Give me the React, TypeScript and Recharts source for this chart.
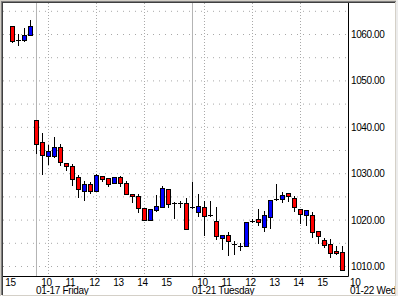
import React from 'react'
import { ComposedChart, Bar, XAxis, YAxis, CartesianGrid } from 'recharts'

// 15-minute bars, index 0 = 01-16 15:00
const opens = [
  1061.9, 1058.85, 1058.8, 1060.0,
  1041.5, 1036.9, 1033.8, 1033.9, 1035.7, 1032.4, 1031.6, 1029.2, 1026.3, 1027.7, 1026.3, 1029.6, 1029.0,
  1027.9, 1029.2, 1028.1, 1025.7, 1025.1, 1022.65, 1020.1, 1022.2, 1022.9, 1026.75, 1023.65, 1023.6, 1023.7,
  1022.8, 1021.7, 1022.9, 1021.0, 1019.8, 1016.2, 1016.8, 1014.95, 1014.4, 1014.4, 1019.9, 1020.2, 1018.6,
  1020.7, 1024.6, 1024.5, 1025.9, 1024.8, 1022.4, 1021.2, 1021.1, 1017.7, 1015.8, 1014.9, 1013.4, 1013.2,
]
const highs = [
  1061.9, 1060.2, 1061.4, 1063.2,
  1041.5, 1038.7, 1036.2, 1038.0, 1036.4, 1032.4, 1032.0, 1029.8, 1028.4, 1028.2, 1030.0, 1029.6, 1029.0,
  1029.3, 1029.5, 1028.4, 1025.7, 1025.7, 1022.65, 1022.3, 1025.5, 1027.4, 1026.75, 1023.9, 1024.2, 1024.8,
  1028.2, 1025.6, 1024.1, 1024.1, 1022.8, 1016.7, 1017.4, 1015.45, 1015.1, 1019.6, 1020.3, 1022.3, 1022.0,
  1024.4, 1027.8, 1026.0, 1025.9, 1025.1, 1022.4, 1022.1, 1021.7, 1017.7, 1016.2, 1016.0, 1014.4, 1014.4,
]
const lows = [
  1058.4, 1057.7, 1058.7, 1060.0,
  1034.4, 1029.9, 1032.1, 1033.6, 1031.8, 1030.9, 1027.5, 1024.9, 1024.3, 1025.9, 1026.3, 1028.4, 1027.4,
  1027.9, 1027.4, 1025.7, 1023.9, 1021.7, 1020.1, 1020.1, 1022.0, 1022.9, 1022.9, 1020.4, 1022.8, 1018.1,
  1022.6, 1020.8, 1016.7, 1020.85, 1015.9, 1013.7, 1012.4, 1012.7, 1013.6, 1014.4, 1019.6, 1019.0, 1017.7,
  1018.3, 1024.4, 1024.0, 1024.2, 1021.9, 1019.3, 1019.0, 1016.4, 1015.0, 1014.2, 1012.1, 1012.8, 1009.2,
]
const closes = [
  1058.7, 1058.85, 1060.0, 1061.9,
  1036.4, 1034.1, 1035.0, 1035.7, 1032.6, 1031.6, 1028.9, 1026.7, 1027.7, 1026.3, 1029.8, 1028.9, 1027.8,
  1029.3, 1028.0, 1025.7, 1025.2, 1022.65, 1020.1, 1022.3, 1023.1, 1027.0, 1023.5, 1023.65, 1023.6, 1018.1,
  1022.8, 1023.1, 1020.9, 1021.0, 1016.6, 1016.7, 1015.5, 1014.95, 1014.4, 1019.6, 1019.9, 1019.6, 1021.05,
  1024.4, 1024.6, 1025.45, 1025.1, 1022.8, 1021.3, 1022.1, 1017.5, 1016.6, 1014.7, 1012.95, 1012.9, 1009.2,
]

const hourTickIdx = [0, 6, 10, 14, 18, 22, 26, 32, 36, 40, 44, 48, 52]
const hourTickLabels = ['15', '10', '11', '12', '13', '14', '15', '10', '11', '12', '13', '14', '15']
const dayStartIdx = [4, 30, 56]
const dayLabels = ['01-17 Friday', '01-21 Tuesday', '01-22 Wednesday']
const dayFirstHourLabel = '10'
const gridHourIdx = [6, 14, 22, 32, 40, 48]
const yTicks = [1010, 1020, 1030, 1040, 1050, 1060]
const yGrid = [1010, 1015, 1020, 1025, 1030, 1035, 1040, 1045, 1050, 1055, 1060, 1065]

const X_MIN = -1.58333
const X_MAX = 56
const Y_MIN = 1007.845
const Y_MAX = 1066.789

const data = opens.map((o, i) => ({
  i,
  open: o,
  high: highs[i],
  low: lows[i],
  close: closes[i],
}))

const FONT = '"Liberation Sans", Arial, sans-serif'

const Candle = (props: any) => {
  const { x, y, width, height, payload } = props
  const { open, close, high, low } = payload
  const top = Math.min(y, y + height)
  const h = Math.abs(height)
  const ppu = high > low ? h / (high - low) : 0
  const yOf = (v: number) => top + (high - v) * ppu
  const cx = Math.floor(x + width / 2) + 0.5
  const wickTop = Math.round(yOf(high))
  const wickBot = Math.round(yOf(low))
  if (Math.abs(open - close) < 0.05) {
    const yy = Math.round(yOf(close)) + 0.5
    return (
      <g>
        <line x1={cx} x2={cx} y1={wickTop} y2={wickBot + 1} stroke="#000" />
        <line x1={cx - 2.5} x2={cx + 2.5} y1={yy} y2={yy} stroke="#000" />
      </g>
    )
  }
  const bTop = Math.round(yOf(Math.max(open, close)))
  const bBot = Math.round(yOf(Math.min(open, close)))
  const fill = close > open ? '#0000ff' : '#ff0000'
  return (
    <g>
      <line x1={cx} x2={cx} y1={wickTop} y2={wickBot + 1} stroke="#000" />
      <rect x={cx - 2} y={bTop + 0.5} width={4} height={Math.max(bBot - bTop, 1)} fill={fill} stroke="#000" />
    </g>
  )
}

const XTick = (props: any) => {
  const { x, payload } = props
  const v = payload.value
  const hi = hourTickIdx.indexOf(v)
  const di = dayStartIdx.indexOf(v)
  return (
    <g fontFamily={FONT} fontSize={10} fill="#000" letterSpacing={-0.3}>
      {hi >= 0 && (
        <text x={x - 2} y={286} textAnchor="middle">
          {hourTickLabels[hi]}
        </text>
      )}
      {di >= 0 && (
        <text x={v + 2 > X_MAX ? x + 1.5 : x - 0.5} y={294} textAnchor="start">
          {dayLabels[di]}
        </text>
      )}
      {di >= 0 && v + 2 > X_MAX && (
        <text x={x + 1.5} y={286} textAnchor="start">
          {dayFirstHourLabel}
        </text>
      )}
    </g>
  )
}

const YTick = (props: any) => {
  const { y, payload } = props
  return (
    <text x={351} y={y + 3.5} fontFamily={FONT} fontSize={10} fill="#000" letterSpacing={-0.4}>
      {payload.value.toFixed(2)}
    </text>
  )
}

const line = (style: React.CSSProperties) => <div style={{ position: 'absolute', ...style }} />

export default function App() {
  return (
    <div style={{ position: 'fixed', left: 0, top: 0, width: 398, height: 296, background: '#fff', overflow: 'hidden' }}>
      <ComposedChart width={398} height={296} data={data} margin={{ top: 3, left: 3, right: 3, bottom: 0 }}>
        <CartesianGrid vertical={false} horizontalValues={yGrid} stroke="#a8a8a8" strokeDasharray="1 5" />
        <CartesianGrid horizontal={false} verticalValues={gridHourIdx} stroke="#a8a8a8" strokeDasharray="1 2" />
        <CartesianGrid horizontal={false} verticalValues={dayStartIdx.slice(0, 2)} stroke="#b4b4b4" />
        <XAxis
          dataKey="i"
          type="number"
          domain={[X_MIN, X_MAX]}
          allowDataOverflow
          ticks={[...hourTickIdx, ...dayStartIdx].sort((a, b) => a - b)}
          interval={0}
          tickLine={false}
          axisLine={{ stroke: '#000' }}
          height={19.5}
          tick={<XTick />}
        />
        <YAxis
          orientation="right"
          type="number"
          domain={[Y_MIN, Y_MAX]}
          allowDataOverflow
          ticks={yTicks}
          interval={0}
          tickLine={false}
          axisLine={{ stroke: '#000' }}
          width={46.5}
          tick={<YTick />}
        />
        <Bar
          dataKey={(d: any) => [d.low, d.high]}
          barSize={5}
          shape={<Candle />}
          isAnimationActive={false}
        />
      </ComposedChart>
      {line({ left: 0, top: 0, width: 398, height: 1, background: '#d4d0c8' })}
      {line({ left: 0, top: 0, width: 1, height: 296, background: '#d4d0c8' })}
      {line({ left: 1, top: 1, width: 396, height: 1, background: '#808080' })}
      {line({ left: 1, top: 1, width: 1, height: 294, background: '#808080' })}
      {line({ left: 2, top: 2, width: 394, height: 1, background: '#404040' })}
      {line({ left: 2, top: 2, width: 1, height: 293, background: '#404040' })}
      {line({ left: 395, top: 2, width: 1, height: 294, background: '#d4d0c8' })}
      {line({ left: 396, top: 0, width: 2, height: 296, background: '#ececec' })}
      {line({ left: 2, top: 295, width: 394, height: 1, background: '#d4d0c8' })}
    </div>
  )
}
